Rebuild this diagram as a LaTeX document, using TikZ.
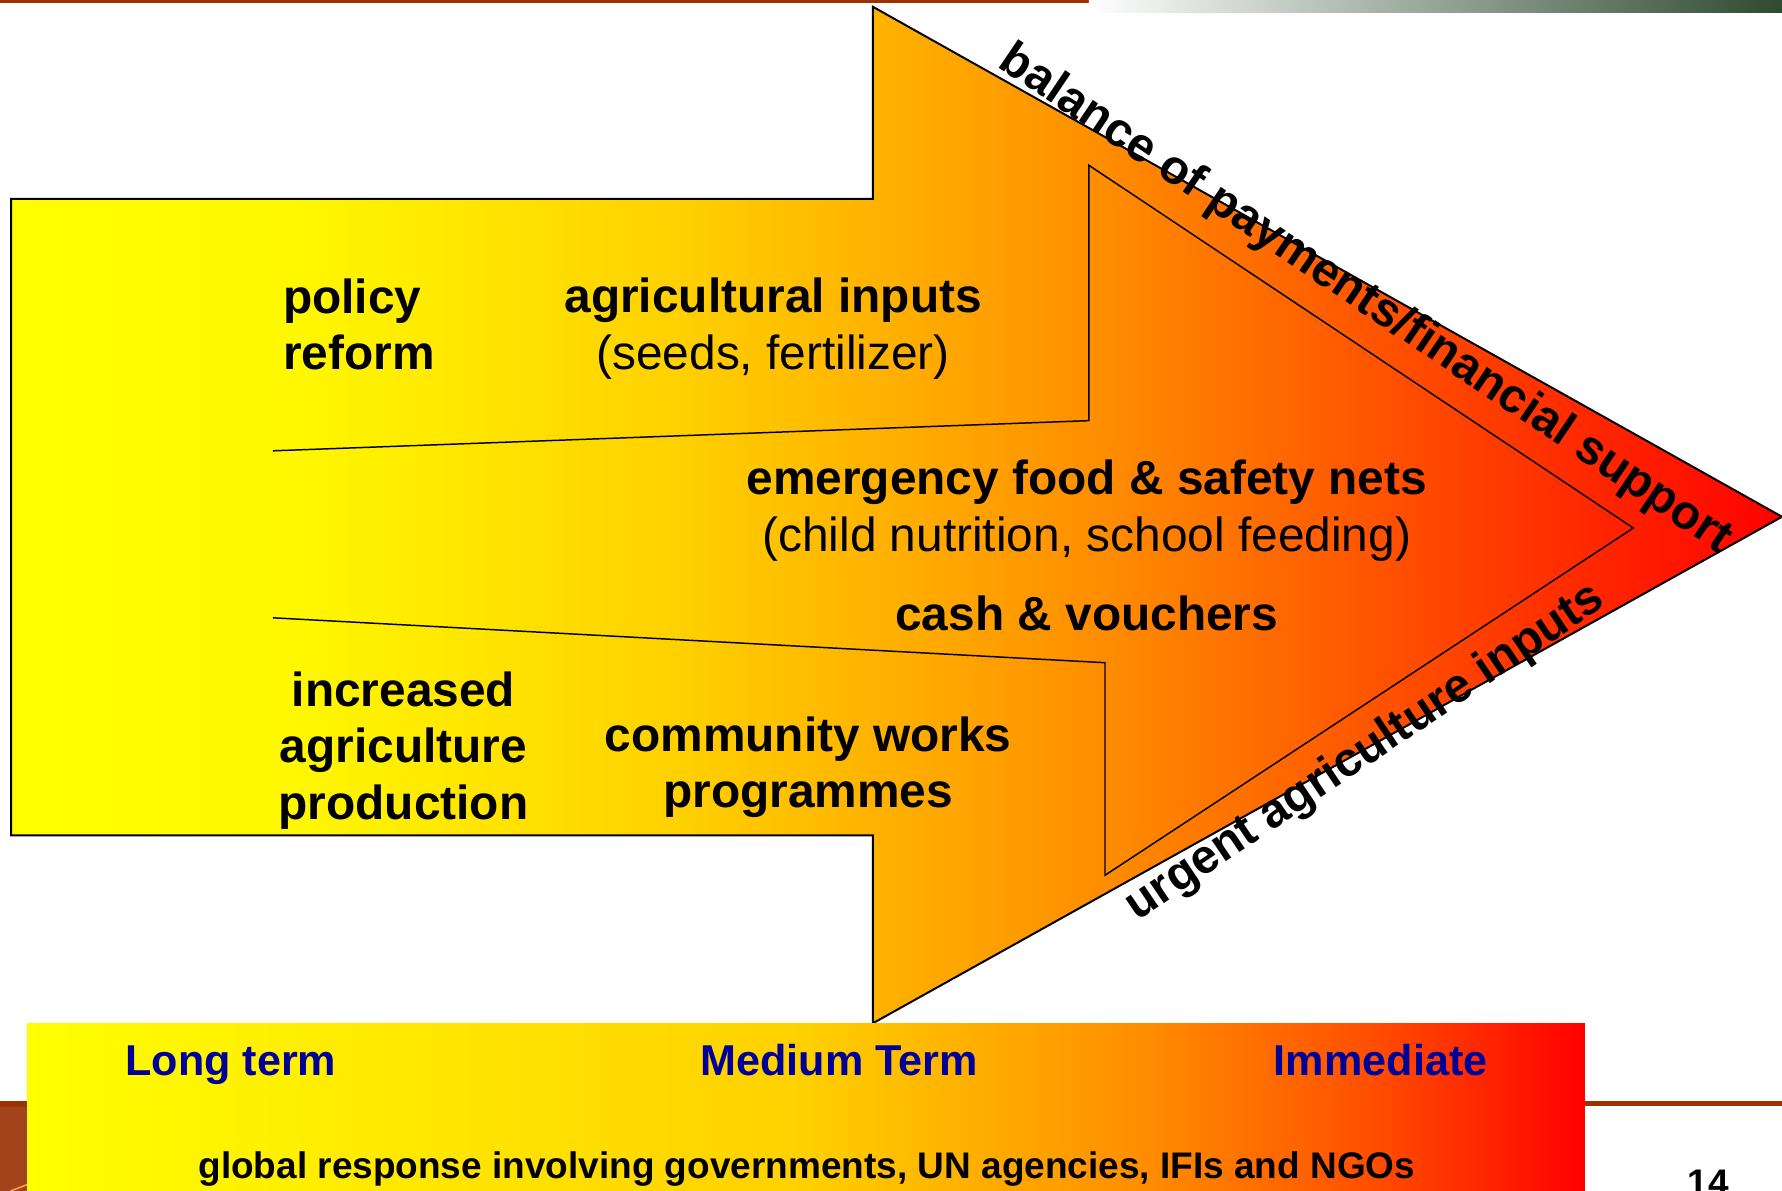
\documentclass[tikz,border=0pt]{standalone}
\usepackage{fontspec}
\setmainfont{Liberation Sans}
\usetikzlibrary{calc}
\definecolor{rost}{HTML}{993300}
\definecolor{rostl}{HTML}{A3431C}
\definecolor{tann}{HTML}{2E4A30}
\definecolor{marine}{HTML}{000099}
\definecolor{gelba}{RGB}{255,248,0}
\definecolor{gelbb}{RGB}{255,208,0}
\definecolor{oranga}{RGB}{255,175,0}
\definecolor{orangb}{RGB}{255,140,0}
\definecolor{orangc}{RGB}{255,80,0}
\pgfdeclarehorizontalshading{pfeilverl}{100bp}{color(0bp)=(yellow); color(25bp)=(yellow); color(33bp)=(gelba); color(44bp)=(gelbb); color(50bp)=(oranga); color(56bp)=(orangb); color(64bp)=(orangc); color(75bp)=(red); color(100bp)=(red)}
\pgfdeclarehorizontalshading{balkenverl}{100bp}{color(0bp)=(yellow); color(25bp)=(yellow); color(50bp)=(gelbb); color(61bp)=(orangb); color(68bp)=(orangc); color(75bp)=(red); color(100bp)=(red)}
\tikzset{
  rand/.style={black,line width=0.8pt,line join=miter},
  trenn/.style={black,line width=0.6pt},
  txt/.style={inner sep=0pt,font=\fontsize{19.4}{23}\selectfont},
  txtb/.style={inner sep=0pt,font=\fontsize{19.4}{23}\selectfont\bfseries},
  zeit/.style={inner sep=0pt,marine,font=\fontsize{17.5}{21}\selectfont\bfseries},
  fuss/.style={inner sep=0pt,font=\fontsize{15}{18}\selectfont\bfseries},
}
\begin{document}
\begin{tikzpicture}
  \useasboundingbox (0,0) rectangle (25.4,16.976);
  \draw[rost,line width=1.2pt] (0,16.95)--(15.52,16.95);
  \shade[left color=white,right color=tann] (15.52,16.80) rectangle (25.4,16.976);
  \draw[rand,shading=pfeilverl] (0.157,14.14)--(12.44,14.14)--(12.44,16.88)--(25.40,9.61)--(12.44,2.39)--(12.44,5.07)--(0.157,5.07)--cycle;
  \draw[trenn] (3.89,10.55)--(15.52,10.98)--(15.52,14.62)--(23.28,9.45)--(15.75,4.50)--(15.75,7.53)--(3.89,8.17);
  \fill[rostl] (0,0) rectangle (0.385,1.28);
  \fill[rost] (0,1.20) rectangle (0.385,1.28);
  \draw[orange!70,line width=0.6pt] (0.15,0)--(0.385,0.09);
  \draw[rost,line width=2pt] (22.59,1.247)--(25.4,1.247);
  \path[shading=balkenverl] (0.385,0) rectangle (22.59,2.39);
  \node[txtb,align=left,anchor=west] (policy) at (4.03,12.35) {policy\\reform};
  \node[txt,align=center] (inputs) at (11.02,12.29) {\bfseries agricultural inputs\\(seeds, fertilizer)};
  \node[txt,align=center] (emergency) at (15.49,9.70) {\bfseries emergency food \& safety nets\\(child nutrition, school feeding)};
  \node[txtb] (cash) at (15.49,8.23) {cash \& vouchers};
  \node[txtb,align=center] (production) at (5.75,6.28) {increased\\agriculture\\production};
  \node[txtb,align=center] (works) at (11.52,6.04) {community works\\programmes};
  \node[txtb,rotate=-34] (balance) at (19.46,12.70) {balance of payments/financial support};
  \node[txtb,rotate=34] (urgent) at (19.46,6.24) {urgent agriculture inputs};
  \node[zeit,anchor=west] (longterm) at (1.78,1.79) {Long term};
  \node[zeit] (mediumterm) at (11.96,1.87) {Medium Term};
  \node[zeit] (immediate) at (19.68,1.87) {Immediate};
  \node[fuss] (global) at (11.50,0.32) {global response involving governments, UN agencies, IFIs and NGOs};
  \node[fuss,anchor=north] (page) at (24.35,0.30) {14};
\end{tikzpicture}
\end{document}
